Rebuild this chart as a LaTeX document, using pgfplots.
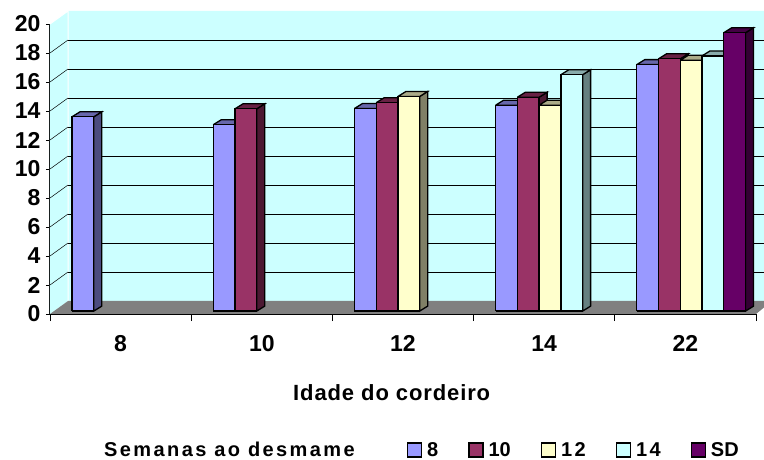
\documentclass[border=0pt]{standalone}
\usepackage{pgfplots}
\pgfplotsset{compat=1.18}
\usepackage{fontspec}
\setmainfont{Liberation Sans}
\newfontfamily\spaced[LetterSpace=12]{Liberation Sans}
\newfontfamily\spacedb[LetterSpace=4]{Liberation Sans}

\definecolor{sA}{HTML}{9999FF}
\definecolor{sB}{HTML}{993366}
\definecolor{sC}{HTML}{FFFFCC}
\definecolor{sD}{HTML}{CCFFFF}
\definecolor{sE}{HTML}{660066}
\definecolor{wall}{HTML}{CCFFFF}
\definecolor{floorgray}{HTML}{808080}

% one 3D column: category, slot in the group, value, colour
\newcommand{\tdbar}[4]{%
  \pgfmathsetmacro{\xa}{#1-0.344+#2*0.154}%
  \pgfmathsetmacro{\xb}{\xa+0.154}%
  \pgfmathsetmacro{\xc}{\xa+0.0567}%
  \pgfmathsetmacro{\xd}{\xb+0.0567}%
  \pgfmathsetmacro{\ya}{0.2}%
  \pgfmathsetmacro{\yb}{0.2+#3}%
  \pgfmathsetmacro{\yc}{\ya+0.345}%
  \pgfmathsetmacro{\yd}{\yb+0.345}%
  \addplot[forget plot,draw=black,line width=1.3pt,fill=#4!50!black]
    coordinates {(\xb,\ya) (\xd,\yc) (\xd,\yd) (\xb,\yb) (\xb,\ya)};
  \addplot[forget plot,draw=black,line width=1.3pt,fill=#4!67!black]
    coordinates {(\xa,\yb) (\xc,\yd) (\xd,\yd) (\xb,\yb) (\xa,\yb)};
  \addplot[forget plot,draw=black,line width=1.3pt,fill=#4]
    coordinates {(\xa,\ya) (\xa,\yb) (\xb,\yb) (\xb,\ya) (\xa,\ya)};
}

\pgfplotsset{
  sq legend/.style={legend image code/.code={\draw[##1] (0pt,-7pt) rectangle (14pt,7pt);}},
}

\begin{document}
\begin{tikzpicture}
\path[use as bounding box] (-50pt,-145pt) rectangle (714pt,314pt);
\begin{axis}[
    scale only axis,
    width=706pt,
    height=290pt,
    xmin=-0.5, xmax=4.5,
    ymin=0, ymax=20,
    clip=false,
    unbounded coords=jump,
    axis x line*=bottom,
    axis y line*=left,
    axis line style={black,line width=1pt,-},
    ytick={0,2,...,20},
    xtick={0,1,2,3,4},
    xticklabels={8,10,12,14,22},
    extra x ticks={-0.5,0.5,1.5,2.5,3.5,4.5},
    extra x tick labels={},
    extra x tick style={major tick length=7pt,xtick style={draw=black,line width=0.7pt}},
    xtick style={draw=none},
    ytick style={draw=black,line width=0.7pt},
    tick align=outside,
    major tick length=4pt,
    /pgf/number format/assume math mode=true,
    tick label style={font=\fontsize{23}{23}\selectfont\bfseries},
    xticklabel style={yshift=-14pt},
    yticklabel style={xshift=-2pt},
    xlabel={\spacedb\bfseries Idade do cordeiro},
    xlabel style={font=\fontsize{22}{22}\selectfont,at={(axis description cs:0.484,-0.272)},anchor=center},
    legend columns=6,
    legend cell align=left,
    legend style={
      draw=none,fill=none,
      at={(axis cs:-0.174,-9.38)},anchor=west,
      font=\fontsize{20}{20}\selectfont\bfseries,
      /tikz/every odd column/.append style={column sep=3pt},
      /tikz/every even column/.append style={column sep=28pt},
    },
]
% back wall, left wall, floor
\addplot[forget plot,draw=none,fill=wall]
  coordinates {(-0.372,0.9) (-0.372,20.9) (4.557,20.9) (4.557,0.9) (-0.372,0.9)};
\addplot[forget plot,draw=none,fill=wall]
  coordinates {(-0.5,0) (-0.372,0.9) (-0.372,20.9) (-0.5,20) (-0.5,0)};
\addplot[forget plot,draw=white,line width=1pt]
  coordinates {(-0.5,20) (-0.372,20.9) (-0.372,0.9)};
\addplot[forget plot,draw=none,fill=floorgray]
  coordinates {(-0.5,0) (-0.372,0.9) (4.557,0.9) (4.557,0.45) (4.5,0) (-0.5,0)};
% gridlines on the walls
\addplot[forget plot,draw=black,line width=0.9pt] coordinates {
  (-0.372,2.9) (4.557,2.9) (0,nan) (-0.372,4.9) (4.557,4.9) (0,nan)
  (-0.372,6.9) (4.557,6.9) (0,nan) (-0.372,8.9) (4.557,8.9) (0,nan)
  (-0.372,10.9) (4.557,10.9) (0,nan) (-0.372,12.9) (4.557,12.9) (0,nan)
  (-0.372,14.9) (4.557,14.9) (0,nan) (-0.372,16.9) (4.557,16.9) (0,nan)
  (-0.372,18.9) (4.557,18.9)};
\addplot[forget plot,draw=black,line width=0.5pt] coordinates {
  (-0.5,2) (-0.372,2.9) (0,nan) (-0.5,4) (-0.372,4.9) (0,nan)
  (-0.5,6) (-0.372,6.9) (0,nan) (-0.5,8) (-0.372,8.9) (0,nan)
  (-0.5,10) (-0.372,10.9) (0,nan) (-0.5,12) (-0.372,12.9) (0,nan)
  (-0.5,14) (-0.372,14.9) (0,nan) (-0.5,16) (-0.372,16.9) (0,nan)
  (-0.5,18) (-0.372,18.9)};
\addplot[forget plot,draw=black,line width=1pt]
  coordinates {(-0.5,0) (4.5,0)};

% idade 8
\tdbar{0}{0}{13.4}{sA}
% idade 10
\tdbar{1}{0}{12.85}{sA}
\tdbar{1}{1}{13.95}{sB}
% idade 12
\tdbar{2}{0}{13.97}{sA}
\tdbar{2}{1}{14.37}{sB}
\tdbar{2}{2}{14.8}{sC}
% idade 14
\tdbar{3}{0}{14.2}{sA}
\tdbar{3}{1}{14.75}{sB}
\tdbar{3}{2}{14.2}{sC}
\tdbar{3}{3}{16.3}{sD}
% idade 22
\tdbar{4}{0}{17.0}{sA}
\tdbar{4}{1}{17.4}{sB}
\tdbar{4}{2}{17.3}{sC}
\tdbar{4}{3}{17.6}{sD}
\tdbar{4}{4}{19.2}{sE}

\addlegendimage{empty legend}
\addlegendentry{\spaced\bfseries Semanas ao desmame\hspace*{22pt}}
\addlegendimage{sq legend,draw=black,line width=1.3pt,fill=sA}
\addlegendentry{8}
\addlegendimage{sq legend,draw=black,line width=1.3pt,fill=sB}
\addlegendentry{10}
\addlegendimage{sq legend,draw=black,line width=1.3pt,fill=sC}
\addlegendentry{\spaced\bfseries 12}
\addlegendimage{sq legend,draw=black,line width=1.3pt,fill=sD}
\addlegendentry{\spaced\bfseries 14}
\addlegendimage{sq legend,draw=black,line width=1.3pt,fill=sE}
\addlegendentry{SD}
\end{axis}
\end{tikzpicture}
\end{document}
